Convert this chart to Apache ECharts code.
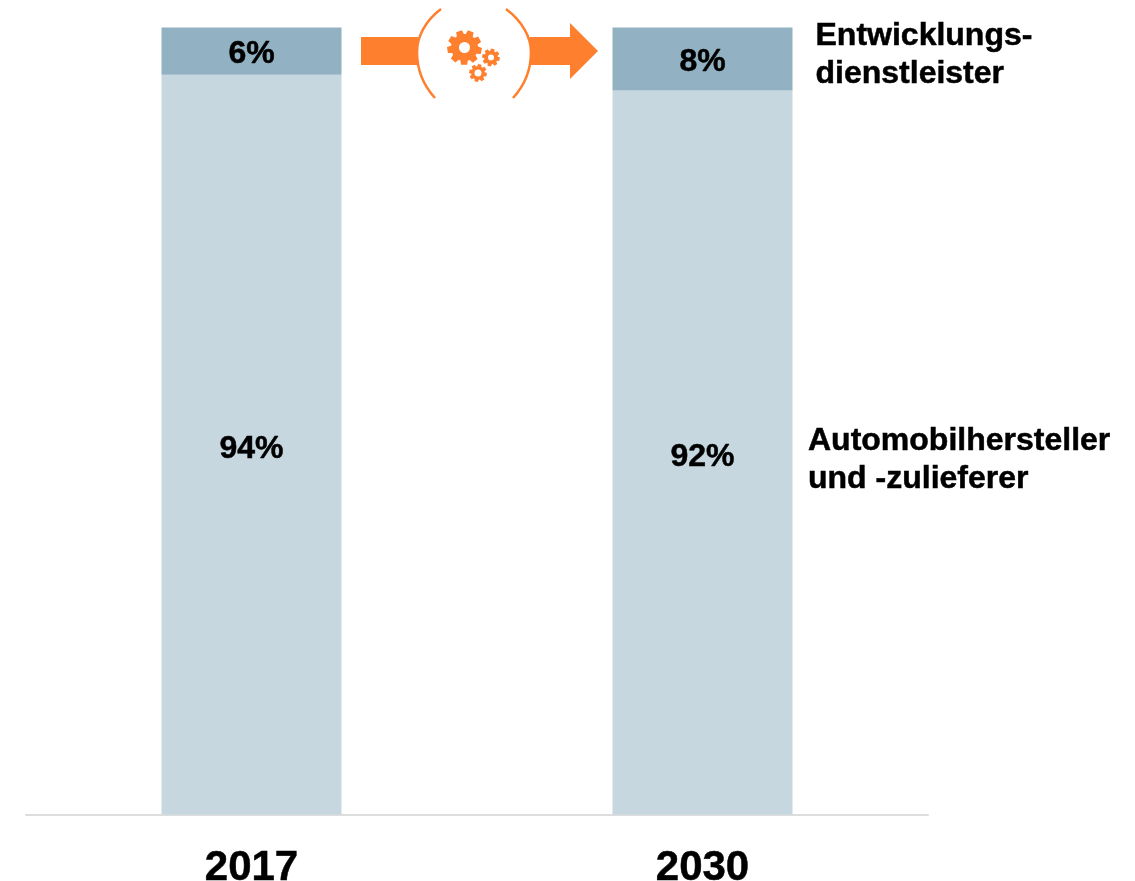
<!DOCTYPE html>
<html><head><meta charset="utf-8">
<style>html,body{margin:0;padding:0;background:#fff}#c{width:1135px;height:881px}</style>
<script src="https://cdn.jsdelivr.net/npm/echarts@6/dist/echarts.min.js"></script>
</head><body><div id="c"></div>
<script>
const categories = ['2017', '2030'];
const oemShare = [94, 92];
const devShare = [6, 8];
const oemName = 'Automobilhersteller\nund -zulieferer';
const devName = 'Entwicklungs-\ndienstleister';
const FONT = '"Liberation Sans", Arial, sans-serif';
const ORANGE = '#fe7f2d';

function gearPoints(cx, cy, ro, ri, teeth) {
  const pts = [], step = Math.PI * 2 / teeth;
  for (let i = 0; i < teeth; i++) {
    const a = i * step + 0.2;
    [[-0.32, ri], [-0.2, ro], [0.2, ro], [0.32, ri]].forEach(function (p) {
      const t = a + p[0] * step * 1.25;
      pts.push([cx + p[1] * Math.cos(t), cy + p[1] * Math.sin(t)]);
    });
  }
  return pts;
}
function gear(cx, cy, ro, ri, hole, teeth) {
  return [
    { type: 'polygon', shape: { points: gearPoints(cx, cy, ro, ri, teeth) }, style: { fill: ORANGE } },
    { type: 'circle', shape: { cx: cx, cy: cy, r: hole }, style: { fill: '#fff' } }
  ];
}
function sideText(x, y, text) {
  return { type: 'text', x: x, y: y, style: { text: text, font: 'bold 32px ' + FONT, fill: '#000', stroke: '#000', lineWidth: 0.5, lineHeight: 38, textVerticalAlign: 'top' } };
}
const barLabel = { show: true, position: 'inside', formatter: '{c}%', color: '#000', textBorderColor: '#000', textBorderWidth: 0.5, fontFamily: FONT, fontWeight: 'bold', fontSize: 32 };
const arc = function (x1, y1, cpx1, cpy1, cpx2, cpy2, x2, y2) {
  return { type: 'bezierCurve', shape: { x1, y1, cpx1, cpy1, cpx2, cpy2, x2, y2 }, style: { stroke: ORANGE, lineWidth: 2.5, fill: null } };
};

const chart = echarts.init(document.getElementById('c'), null, { renderer: 'canvas' });
chart.setOption({
  animation: false,
  backgroundColor: '#fff',
  grid: { left: 26, right: 207, top: 27.5, bottom: 66.5, outerBoundsMode: 'none' },
  xAxis: {
    type: 'category', data: categories,
    axisLine: { lineStyle: { color: '#dddddd', width: 2 } },
    axisTick: { show: false },
    axisLabel: { color: '#000', fontFamily: FONT, fontWeight: 'bold', fontSize: 42, margin: 33, textBorderColor: '#000', textBorderWidth: 0.5 }
  },
  yAxis: { type: 'value', min: 0, max: 100, show: false, splitLine: { show: false } },
  series: [
    { name: 'Automobilhersteller und -zulieferer', type: 'bar', stack: 's', barWidth: 180, data: oemShare, itemStyle: { color: '#c6d7e0' }, label: Object.assign({}, barLabel, { offset: [0, 4.5] }) },
    { name: 'Entwicklungsdienstleister', type: 'bar', stack: 's', barWidth: 180, data: devShare, itemStyle: { color: '#92b1c2' }, label: Object.assign({}, barLabel, { offset: [0, 3] }) }
  ],
  graphic: [
    { type: 'polygon', shape: { points: [[361, 37], [418, 37], [418, 65], [361, 65]] }, style: { fill: ORANGE } },
    { type: 'polygon', shape: { points: [[530, 37], [570, 37], [570, 23], [598, 51], [570, 79], [570, 65], [530, 65]] }, style: { fill: ORANGE } },
    arc(441, 9, 425, 21, 417, 37, 417, 52),
    arc(417, 52, 417, 70, 424, 86, 435, 98),
    arc(506, 9, 522, 21, 531, 37, 531, 52),
    arc(531, 52, 531, 70, 524, 86, 513, 98)
  ].concat(
    gear(464.5, 47.5, 17.5, 13.5, 5.5, 9),
    gear(491, 57.5, 9, 6.8, 3, 8),
    gear(478, 73, 9, 6.8, 3.5, 8),
    [sideText(815.5, 17, devName), sideText(808, 422, oemName)]
  )
});
</script></body></html>
